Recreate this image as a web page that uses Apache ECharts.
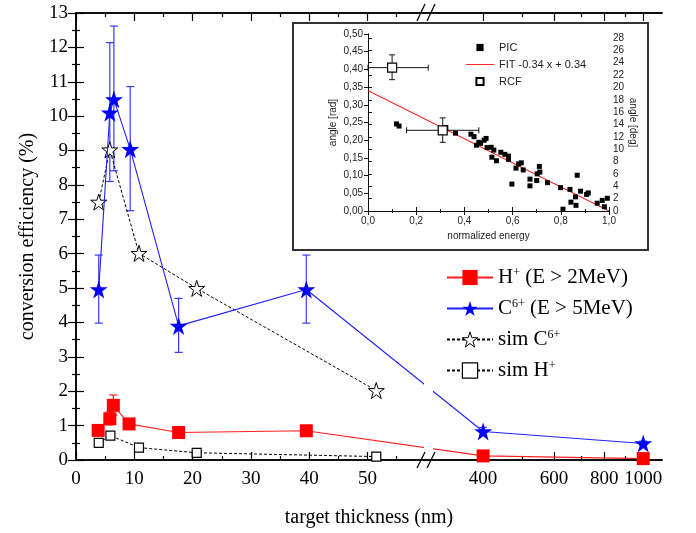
<!DOCTYPE html>
<html lang="en">
<head>
<meta charset="UTF-8">
<title>conversion efficiency</title>
<style>
  *{margin:0;padding:0;}
  body{background:#fff;}
  #view{width:696px;height:533px;}
</style>
</head>
<body>
<div id="view"></div>
<script src="https://cdn.jsdelivr.net/npm/echarts@6/dist/echarts.min.js"></script>
<script>
// ---- main plot: target thickness (nm) vs conversion efficiency (%)
const cX  = [3.9, 5.8, 6.5, 9.3, 17.6, 39.5, 400, 1000];
const cY  = [4.96, 10.1, 10.49, 9.04, 3.9, 4.96, 0.83, 0.48];
const cLo = [3.98, 8.1, 8.41, 7.25, 3.13, 3.98, 0.72, 0.42];
const cHi = [5.96, 12.14, 12.62, 10.86, 4.7, 5.96, 0.95, 0.55];

const hX = [3.8, 5.8, 6.4, 9.1, 17.6, 39.5, 400, 1000];
const hY = [0.86, 1.2, 1.59, 1.05, 0.8, 0.85, 0.12, 0.04];
const hErrX  = [5.8, 6.4];
const hErrLo = [1.02, 1.3];
const hErrHi = [1.4, 1.89];

const scX = [3.9, 5.8, 10.8, 20.7, 51.5];
const scY = [7.5, 9.02, 6.01, 4.99, 2.02];
const shX = [3.9, 5.9, 10.8, 20.7, 51.5];
const shY = [0.5, 0.71, 0.36, 0.21, 0.1];

const leftTicks  = [0, 10, 20, 30, 40, 50];
const leftMinor  = [5, 15, 25, 35, 45, 55];
const rightTicks = [400, 600, 800, 1000];
const rightMinor = [500, 700, 900];

// ---- inset: normalized energy vs angle
const picX = [0.118,0.129,0.323,0.363,0.427,0.44,0.45,0.46,0.467,0.482,0.49,0.494,0.511,0.514,0.522,0.533,0.551,0.568,0.583,0.583,0.597,0.614,0.625,0.636,0.644,0.672,0.672,0.7,0.702,0.711,0.713,0.745,0.799,0.809,0.838,0.842,0.861,0.863,0.868,0.882,0.907,0.914,0.951,0.972,0.981,0.993];
const picY = [0.246,0.24,0.236,0.22,0.217,0.21,0.186,0.194,0.191,0.2,0.205,0.179,0.18,0.152,0.172,0.142,0.166,0.16,0.155,0.146,0.076,0.121,0.133,0.136,0.116,0.09,0.071,0.086,0.105,0.126,0.11,0.08,0.066,0.005,0.061,0.025,0.04,0.016,0.101,0.056,0.047,0.051,0.022,0.03,0.012,0.036];
const rcfX   = [0.1, 0.31];
const rcfY   = [0.405, 0.228];
const rcfXLo = [0.0, 0.16];
const rcfXHi = [0.25, 0.46];
const rcfYLo = [0.371, 0.194];
const rcfYHi = [0.441, 0.263];
const fitA = -0.34, fitB = 0.34;
const degTicks = [0, 2, 4, 6, 8, 10, 12, 14, 16, 18, 20, 22, 24, 26, 28];

// broken axis: linear 0..60, then log scale from 300 nm
function tx(v) { return v <= 60 ? v : 61.2 + Math.log10(v / 300) * 69; }
const XMAX = 100.5;

const tickText = {};
leftTicks.concat(rightTicks).forEach(v => { tickText[tx(v).toFixed(3)] = String(v); });

const STAR = 'path://M50,0 L61.2,34.5 L97.6,34.5 L68.2,55.9 L79.4,90.5 L50,69.1 L20.6,90.5 L31.8,55.9 L2.4,34.5 L38.8,34.5 Z';
const SERIF = 'Liberation Serif';
const SANS = 'Liberation Sans';

function pts(xs, ys) { return xs.map((x, i) => [tx(x), ys[i]]); }

function errBar(color, cap) {
  return function (params, api) {
    const x = api.value(0);
    const a = api.coord([x, api.value(1)]);
    const b = api.coord([x, api.value(2)]);
    const st = { stroke: color, lineWidth: 1.2 };
    return { type: 'group', children: [
      { type: 'line', shape: { x1: a[0], y1: a[1], x2: b[0], y2: b[1] }, style: st },
      { type: 'line', shape: { x1: a[0] - cap, y1: a[1], x2: a[0] + cap, y2: a[1] }, style: st },
      { type: 'line', shape: { x1: b[0] - cap, y1: b[1], x2: b[0] + cap, y2: b[1] }, style: st }
    ]};
  };
}

function rcfBars(params, api) {
  const c = api.coord([api.value(0), api.value(1)]);
  const xl = api.coord([api.value(2), api.value(1)]);
  const xh = api.coord([api.value(3), api.value(1)]);
  const yl = api.coord([api.value(0), api.value(4)]);
  const yh = api.coord([api.value(0), api.value(5)]);
  const st = { stroke: '#111', lineWidth: 1 };
  const cap = 3;
  return { type: 'group', children: [
    { type: 'line', shape: { x1: xl[0], y1: c[1], x2: xh[0], y2: c[1] }, style: st },
    { type: 'line', shape: { x1: c[0], y1: yl[1], x2: c[0], y2: yh[1] }, style: st },
    { type: 'line', shape: { x1: xl[0], y1: c[1] - cap, x2: xl[0], y2: c[1] + cap }, style: st },
    { type: 'line', shape: { x1: xh[0], y1: c[1] - cap, x2: xh[0], y2: c[1] + cap }, style: st },
    { type: 'line', shape: { x1: c[0] - cap, y1: yl[1], x2: c[0] + cap, y2: yl[1] }, style: st },
    { type: 'line', shape: { x1: c[0] - cap, y1: yh[1], x2: c[0] + cap, y2: yh[1] }, style: st }
  ]};
}

const legendText = {
  'H+': 'H{sup|+} (E > 2MeV)',
  'C6+': 'C{sup|6+} (E > 5MeV)',
  'sim C6+': 'sim C{sup|6+}',
  'sim H+': 'sim H{sup|+}'
};

const mainTickVals = leftTicks.concat(rightTicks).map(tx);
const mainMinorVals = leftMinor.concat(rightMinor).map(tx);

function mainX(pos, vals, len, labels) {
  return {
    type: 'value', gridIndex: 0, position: pos, min: 0, max: XMAX,
    axisLine: { show: true, onZero: false, lineStyle: { color: '#000', width: 1.5 } },
    axisTick: { show: true, inside: true, length: len, customValues: vals, lineStyle: { color: '#000', width: 1.2 } },
    axisLabel: labels ? {
      customValues: mainTickVals, margin: 10, color: '#000', fontFamily: SERIF, fontSize: 19,
      formatter: v => tickText[v.toFixed(3)] || ''
    } : { show: false },
    splitLine: { show: false }
  };
}

const insetTick = { show: true, inside: false, length: 4, lineStyle: { color: '#111' } };

const option = {
  animation: false,
  backgroundColor: '#fff',
  grid: [
    { left: 76, top: 13, width: 586, height: 447 },
    { left: 368, top: 34, width: 241, height: 177, z: 60 }
  ],
  xAxis: [
    Object.assign(mainX('bottom', mainTickVals, 8, true), {
      name: 'target thickness (nm)', nameLocation: 'middle', nameGap: 48,
      nameTextStyle: { fontFamily: SERIF, fontSize: 20, color: '#000' }
    }),
    mainX('bottom', mainMinorVals, 4, false),
    mainX('top', mainTickVals, 8, false),
    mainX('top', mainMinorVals, 4, false),
    {
      type: 'value', gridIndex: 1, position: 'bottom', min: 0, max: 1, interval: 0.2, z: 60,
      name: 'normalized energy', nameLocation: 'middle', nameGap: 20,
      nameTextStyle: { fontFamily: SANS, fontSize: 10, color: '#222' },
      axisLine: { lineStyle: { color: '#111' } },
      axisTick: insetTick,
      minorTick: { show: true, splitNumber: 2, length: 2, lineStyle: { color: '#111' } },
      axisLabel: { fontFamily: SANS, fontSize: 10, color: '#222', margin: 5, formatter: v => v.toFixed(1).replace('.', ',') },
      splitLine: { show: false }
    },
    {
      type: 'value', gridIndex: 1, position: 'top', min: 0, max: 1, interval: 0.2, z: 60,
      axisLine: { lineStyle: { color: '#111' } },
      axisTick: insetTick,
      minorTick: { show: true, splitNumber: 2, length: 2, lineStyle: { color: '#111' } },
      axisLabel: { show: false }, splitLine: { show: false }
    }
  ],
  yAxis: [
    {
      type: 'value', gridIndex: 0, position: 'left', min: 0, max: 13, interval: 1,
      name: 'conversion efficiency (%)', nameLocation: 'middle', nameGap: 38,
      nameTextStyle: { fontFamily: SERIF, fontSize: 20, color: '#000' },
      axisLine: { show: true, lineStyle: { color: '#000', width: 1.5 } },
      axisTick: { show: true, inside: true, length: 8, lineStyle: { color: '#000', width: 1.2 } },
      minorTick: { show: true, splitNumber: 2, length: 4, lineStyle: { color: '#000', width: 1.2 } },
      axisLabel: { color: '#000', fontFamily: SERIF, fontSize: 19, margin: 8 },
      splitLine: { show: false }
    },
    {
      type: 'value', gridIndex: 0, position: 'right', min: 0, max: 13, interval: 1,
      axisLine: { show: true, lineStyle: { color: '#000', width: 1.5 } },
      axisTick: { show: true, inside: true, length: 8, lineStyle: { color: '#000', width: 1.2 } },
      minorTick: { show: true, splitNumber: 2, length: 4, lineStyle: { color: '#000', width: 1.2 } },
      axisLabel: { show: false }, splitLine: { show: false }
    },
    {
      type: 'value', gridIndex: 1, position: 'left', min: 0, max: 0.5, interval: 0.05, z: 60,
      name: 'angle [rad]', nameLocation: 'middle', nameGap: 30,
      nameTextStyle: { fontFamily: SANS, fontSize: 10, color: '#222' },
      axisLine: { show: true, lineStyle: { color: '#111' } },
      axisTick: insetTick,
      axisLabel: { fontFamily: SANS, fontSize: 10, color: '#222', margin: 5, formatter: v => v.toFixed(2).replace('.', ',') },
      splitLine: { show: false }
    },
    {
      type: 'value', gridIndex: 1, position: 'right', min: 0, max: 0.5 * 180 / Math.PI, z: 60,
      name: 'angle [deg]', nameLocation: 'middle', nameGap: 18, nameRotate: -90,
      nameTextStyle: { fontFamily: SANS, fontSize: 10, color: '#222' },
      axisLine: { show: true, lineStyle: { color: '#111' } },
      axisTick: { show: true, length: 4, customValues: degTicks, lineStyle: { color: '#111' } },
      axisLabel: { fontFamily: SANS, fontSize: 10, color: '#222', margin: 4, customValues: degTicks },
      splitLine: { show: false }
    }
  ],
  legend: [
    {
      data: ['H+', 'C6+', { name: 'sim C6+', itemStyle: { borderWidth: 1 } }, { name: 'sim H+', itemStyle: { borderWidth: 1.2 } }],
      orient: 'vertical', left: 441, top: 262, itemWidth: 46, itemHeight: 19, itemGap: 10,
      formatter: n => legendText[n],
      textStyle: {
        fontFamily: SERIF, fontSize: 21, color: '#000',
        rich: { sup: { fontFamily: SERIF, fontSize: 12, color: '#000', verticalAlign: 'top', lineHeight: 12 } }
      }
    },
    {
      data: ['PIC', { name: 'FIT -0.34 x + 0.34', icon: 'path://M0,0 H100 V3 H0 Z' }, 'RCF'],
      orient: 'vertical', left: 461, top: 37, itemWidth: 28, itemHeight: 9, itemGap: 6, z: 70,
      textStyle: { fontFamily: SANS, fontSize: 11, color: '#222' }
    }
  ],
  graphic: { elements: [
    { type: 'rect', shape: { x: 424, y: 22, width: 9, height: 430 }, style: { fill: '#fff' }, z: 5 },
    { type: 'line', shape: { x1: 417, y1: 468, x2: 425, y2: 452 }, style: { stroke: '#000', lineWidth: 1.3 }, z: 6 },
    { type: 'line', shape: { x1: 427, y1: 468, x2: 435, y2: 452 }, style: { stroke: '#000', lineWidth: 1.3 }, z: 6 },
    { type: 'line', shape: { x1: 417, y1: 21, x2: 425, y2: 4 }, style: { stroke: '#000', lineWidth: 1.3 }, z: 6 },
    { type: 'line', shape: { x1: 427, y1: 21, x2: 435, y2: 4 }, style: { stroke: '#000', lineWidth: 1.3 }, z: 6 },
    { type: 'rect', shape: { x: 293, y: 23, width: 355, height: 227 }, style: { fill: '#fff', stroke: '#333', lineWidth: 2 }, z: 50 }
  ]},
  series: [
    {
      type: 'custom', name: 'cErr', xAxisIndex: 0, yAxisIndex: 0,
      renderItem: errBar('#3a3aff', 4), encode: { x: 0, y: [1, 2] },
      data: cX.map((x, i) => [tx(x), cLo[i], cHi[i]])
    },
    {
      type: 'custom', name: 'hErr', xAxisIndex: 0, yAxisIndex: 0,
      renderItem: errBar('#ff2020', 4), encode: { x: 0, y: [1, 2] },
      data: hErrX.map((x, i) => [tx(x), hErrLo[i], hErrHi[i]])
    },
    {
      type: 'line', name: 'sim C6+', data: pts(scX, scY), symbol: STAR, symbolSize: 16,
      itemStyle: { color: '#fff', borderColor: '#000', borderWidth: 1 },
      lineStyle: { color: '#000', width: 1, type: [3, 2] }, z: 3
    },
    {
      type: 'line', name: 'sim H+', data: pts(shX, shY), symbol: 'rect', symbolSize: 9,
      itemStyle: { color: '#fff', borderColor: '#000', borderWidth: 1.2 },
      lineStyle: { color: '#000', width: 1, type: [3, 2] }, z: 3
    },
    {
      type: 'line', name: 'H+', data: pts(hX, hY), symbol: 'rect', symbolSize: 13,
      itemStyle: { color: '#ff0000' }, lineStyle: { color: '#ff2020', width: 1.1 }, z: 4
    },
    {
      type: 'line', name: 'C6+', data: pts(cX, cY), symbol: STAR, symbolSize: 18,
      itemStyle: { color: '#0000ff' }, lineStyle: { color: '#2020ff', width: 1.1 }, z: 4
    },
    {
      type: 'line', name: 'FIT -0.34 x + 0.34', xAxisIndex: 4, yAxisIndex: 2,
      data: [[0, fitB], [1, fitA + fitB]], symbol: 'none',
      itemStyle: { color: '#ff0000' }, lineStyle: { color: '#ff0000', width: 1 }, z: 61
    },
    {
      // markers only: the line is hidden so the legend shows a small square
      type: 'line', name: 'PIC', xAxisIndex: 4, yAxisIndex: 2,
      data: picX.map((x, i) => [x, picY[i]]), symbol: 'rect', symbolSize: 5,
      itemStyle: { color: '#000' }, lineStyle: { width: 0, opacity: 0 }, z: 62
    },
    {
      type: 'custom', name: 'rcfErr', xAxisIndex: 4, yAxisIndex: 2, z: 63,
      renderItem: rcfBars, encode: { x: [0, 2, 3], y: [1, 4, 5] },
      data: rcfX.map((x, i) => [x, rcfY[i], rcfXLo[i], rcfXHi[i], rcfYLo[i], rcfYHi[i]])
    },
    {
      type: 'line', name: 'RCF', xAxisIndex: 4, yAxisIndex: 2,
      data: rcfX.map((x, i) => [x, rcfY[i]]), symbol: 'rect', symbolSize: 9,
      itemStyle: { color: '#fff', borderColor: '#000', borderWidth: 1.2 },
      lineStyle: { width: 0, opacity: 0 }, z: 64
    }
  ]
};

const chart = echarts.init(document.getElementById('view'));
chart.setOption(option);
</script>
</body>
</html>
